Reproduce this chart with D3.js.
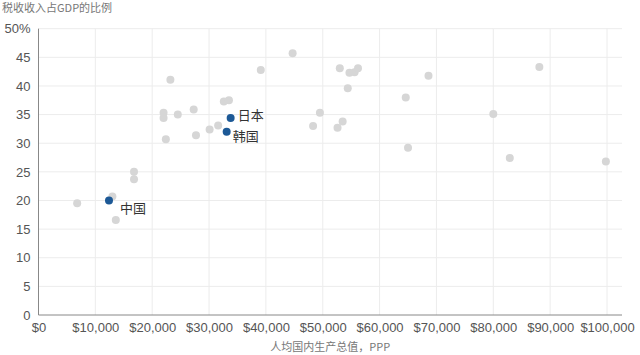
<!DOCTYPE html>
<html><head><meta charset="utf-8">
<script src="https://cdn.jsdelivr.net/npm/d3@7"></script>
<style>body{margin:0;background:#fff}svg{display:block}</style>
</head><body>
<svg id="c" width="640" height="355"></svg>
<script>
const gdp = [6800,13000,13600,16800,16800,23200,22000,22000,24500,27300,22400,27700,30100,31600,32600,33500,39100,44700,53000,54700,55600,56200,54400,49500,48300,52600,53500,68600,64600,65000,88100,80000,82900,99800];
const tax = [19.5,20.7,16.6,25.0,23.7,41.1,35.3,34.4,35.0,35.9,30.7,31.4,32.4,33.1,37.3,37.5,42.8,45.7,43.1,42.3,42.4,43.1,39.6,35.3,33.0,32.7,33.8,41.8,38.0,29.2,43.3,35.1,27.4,26.8];
const hiNames = ["中国","日本","韩国"];
const hiGdp = [12400,33800,33100];
const hiTax = [20.0,34.4,32.0];
const xTicks = [0,10000,20000,30000,40000,50000,60000,70000,80000,90000,100000];
const yTicks = [0,5,10,15,20,25,30,35,40,45,50];
const title = "税收收入占GDP的比例";
const xTitle = "人均国内生产总值，PPP";

const svg = d3.select("#c");
const x = d3.scaleLinear().domain([0,100000]).range([38.5,607]);
const y = d3.scaleLinear().domain([0,50]).range([315,28.7]);
const right = 622;
const font = "'Liberation Sans Narrow','Liberation Sans',Arial,sans-serif";
const cjk = "'Noto Sans CJK SC',sans-serif";

// gridlines
svg.append("g").selectAll("line").data(yTicks.slice(1)).join("line")
  .attr("x1",x(0)).attr("x2",right).attr("y1",d=>y(d)).attr("y2",d=>y(d))
  .attr("stroke","#ececec").attr("stroke-width",1);
svg.append("g").selectAll("line").data(xTicks.slice(1)).join("line")
  .attr("x1",d=>x(d)).attr("x2",d=>x(d)).attr("y1",y(50)).attr("y2",y(0))
  .attr("stroke","#ececec").attr("stroke-width",1);

// axes
const xa = svg.append("g").attr("transform",`translate(0,${y(0)})`)
  .call(d3.axisBottom(x).tickValues(xTicks).tickSize(0).tickPadding(8)
  .tickFormat(d=>"$"+d3.format(",")(d)));
xa.select(".domain").remove();
xa.selectAll("text").attr("font-family",font).attr("font-size",13).attr("fill","#555");
svg.append("line").attr("x1",x(0)).attr("x2",right).attr("y1",y(0)).attr("y2",y(0)).attr("stroke","#888");

const ya = svg.append("g").attr("transform",`translate(${x(0)},0)`)
  .call(d3.axisLeft(y).tickValues(yTicks).tickSize(0).tickPadding(8)
  .tickFormat(d=>d===50?"50%":d));
ya.select(".domain").remove();
ya.selectAll("text").attr("font-family",font).attr("font-size",13).attr("fill","#555");
svg.append("line").attr("x1",x(0)).attr("x2",x(0)).attr("y1",y(50)).attr("y2",y(0)).attr("stroke","#888");

// points
svg.append("g").selectAll("circle").data(gdp.map((g,i)=>[g,tax[i]])).join("circle")
  .attr("cx",d=>x(d[0])).attr("cy",d=>y(d[1])).attr("r",4).attr("fill","#d6d6d6");
const hi = hiNames.map((n,i)=>({n,g:hiGdp[i],t:hiTax[i]}));
svg.append("g").selectAll("circle").data(hi).join("circle")
  .attr("cx",d=>x(d.g)).attr("cy",d=>y(d.t)).attr("r",4).attr("fill","#1d5996");
const off = {"中国":[11,8],"日本":[7,-3],"韩国":[6,5]};
svg.append("g").selectAll("text").data(hi).join("text")
  .attr("x",d=>x(d.g)+off[d.n][0]).attr("y",d=>y(d.t)+off[d.n][1]).attr("dy","0.35em")
  .attr("font-family",cjk).attr("font-size",13).attr("fill","#333").text(d=>d.n);

// titles
svg.append("text").attr("x",2).attr("y",12).attr("font-family",cjk).attr("font-size",11).attr("fill","#777").text(title);
svg.append("text").attr("x",(x(0)+right)/2).attr("y",351).attr("text-anchor","middle")
  .attr("font-family",cjk).attr("font-size",11).attr("fill","#777").text(xTitle);
</script>
</body></html>
